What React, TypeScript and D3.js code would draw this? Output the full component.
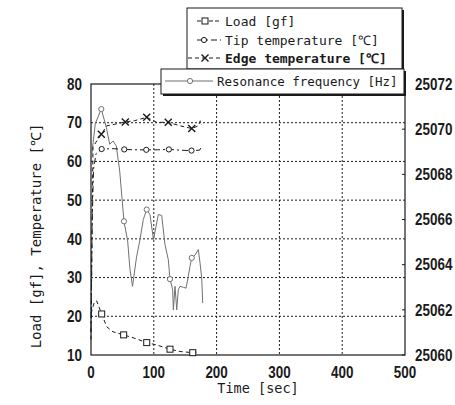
import React from 'react';
import * as d3 from 'd3';

const xTicks = [0, 100, 200, 300, 400, 500];
const yLeftTicks = [10, 20, 30, 40, 50, 60, 70, 80];
const yRightTicks = [25060, 25062, 25064, 25066, 25068, 25070, 25072];

const loadTime = [0, 5, 9, 17, 25, 35, 52, 70, 88.7, 104.5, 125.8, 141.7, 162, 170];
const loadValue = [20.7, 23.5, 24.0, 20.6, 17.3, 16.0, 15.2, 14.3, 13.2, 12.6, 11.5, 10.9, 10.6, 10.8];
const loadMarkerIdx = [3, 6, 8, 10, 12];

const tipTime = [0, 2, 4, 8, 17, 35, 53, 70, 88, 106, 124, 142, 160, 173, 176];
const tipValue = [16, 45, 58, 62, 63.2, 63.3, 63.1, 63.0, 63.0, 63.0, 63.1, 62.9, 62.8, 62.9, 64.0];
const tipMarkerIdx = [4, 6, 8, 10, 12];

const edgeTime = [0, 1.5, 3.2, 8, 16.4, 25, 37.7, 54.6, 69, 88.7, 104.6, 123, 141.7, 160.4, 171, 174, 176];
const edgeValue = [14, 40, 63.7, 65, 67.0, 69.2, 69.6, 70.2, 70.5, 71.4, 70.1, 70.1, 69.2, 68.5, 69.2, 70.5, 69.5];
const edgeMarkerIdx = [4, 7, 9, 11, 13];

const freqTime = [0, 6.8, 16.4, 24.4, 29.8, 35.0, 40.3, 45.7, 52.5, 58.4, 62.1, 66.1, 72.5, 78.0, 83.3, 88.7, 93.9, 99.5, 107.2, 112.6, 117.8, 123.1, 125.8, 130.1, 131.1, 133.8, 136.5, 139.0, 141.7, 147.0, 151.3, 154.9, 157.6, 160.4, 165.6, 170.9, 173.6, 176.3, 177.9];
const freqValue = [25068.58, 25070.25, 25070.89, 25070.08, 25069.33, 25069.48, 25069.26, 25068.15, 25065.92, 25065.04, 25063.78, 25063.04, 25064.33, 25065.11, 25066.0, 25066.44, 25066.22, 25065.11, 25066.22, 25066.18, 25064.89, 25064.22, 25063.36, 25062.89, 25062.0, 25063.04, 25062.0, 25062.89, 25063.04, 25063.0, 25062.96, 25063.48, 25063.92, 25064.3, 25064.42, 25064.67, 25064.08, 25063.41, 25062.3];
const freqMarkerIdx = [2, 8, 15, 22, 33];

const legendLabels = ['Load [gf]', 'Tip temperature [℃]', 'Edge temperature [℃]', 'Resonance frequency [Hz]'];

const monoFont = '"DejaVu Sans Mono", monospace';
const numFont = '"Liberation Sans", Arial, sans-serif';

export default function App() {
  const left = 91, right = 405, top = 84, bottom = 355;
  const x = d3.scaleLinear().domain([0, 500]).range([left, right]);
  const yL = d3.scaleLinear().domain([10, 80]).range([bottom, top]);
  const yR = d3.scaleLinear().domain([25060, 25072]).range([bottom, top]);

  const mk = (ts: number[], vs: number[], ys: d3.ScaleLinear<number, number>) =>
    d3.line<number>().x((_, i) => x(ts[i])).y((v) => ys(v))(vs) || '';

  const ink = '#1a1a1a';
  const gray = '#707070';

  const square = (cx: number, cy: number, key: string) => (
    <rect key={key} x={cx - 3} y={cy - 3} width={6} height={6} fill="white" stroke={ink} strokeWidth={1} />
  );
  const circle = (cx: number, cy: number, key: string, col: string) => (
    <circle key={key} cx={cx} cy={cy} r={2.6} fill="white" stroke={col} strokeWidth={1} />
  );
  const cross = (cx: number, cy: number, key: string) => (
    <path key={key} d={`M${cx - 3.5},${cy - 3.5}L${cx + 3.5},${cy + 3.5}M${cx - 3.5},${cy + 3.5}L${cx + 3.5},${cy - 3.5}`} stroke={ink} strokeWidth={1.4} />
  );
  const num = (key: string, tx: number, ty: number, anchor: string, label: string | number) => (
    <text key={key} transform={`translate(${tx},${ty}) scale(0.84,1)`} dy="0.36em" textAnchor={anchor} fontFamily={numFont} fontWeight="bold" fontSize={16} fill={ink}>{label}</text>
  );

  return (
    <svg width={455} height={405} style={{ position: 'absolute', left: 0, top: 0, background: 'white' }}>
      <rect x={0} y={0} width={455} height={405} fill="white" />
      {/* grid */}
      {xTicks.filter((t) => t > 0 && t < 500).map((t) => (
        <line key={'gx' + t} x1={x(t)} x2={x(t)} y1={top} y2={bottom} stroke={ink} strokeWidth={1} strokeDasharray="2,2" />
      ))}
      {yLeftTicks.filter((t) => t > 10 && t < 80).map((t) => (
        <line key={'gy' + t} x1={left} x2={right} y1={yL(t)} y2={yL(t)} stroke={ink} strokeWidth={1} strokeDasharray="2,2" />
      ))}
      {/* right ticks */}
      {yRightTicks.map((t) => (
        <line key={'rt' + t} x1={right - 3} x2={right} y1={yR(t)} y2={yR(t)} stroke={ink} strokeWidth={1} />
      ))}
      {/* frame */}
      <rect x={left} y={top} width={right - left} height={bottom - top} fill="none" stroke={ink} strokeWidth={1.2} />

      {/* series */}
      <path d={mk(freqTime, freqValue, yR)} fill="none" stroke={gray} strokeWidth={1} />
      {freqMarkerIdx.map((i) => circle(x(freqTime[i]), yR(freqValue[i]), 'fm' + i, gray))}

      <path d={mk(loadTime, loadValue, yL)} fill="none" stroke={ink} strokeWidth={1} strokeDasharray="4,3" />
      {loadMarkerIdx.map((i) => square(x(loadTime[i]), yL(loadValue[i]), 'lm' + i))}

      <path d={mk(tipTime, tipValue, yL)} fill="none" stroke={ink} strokeWidth={1} strokeDasharray="6,3,2,3" />
      {tipMarkerIdx.map((i) => circle(x(tipTime[i]), yL(tipValue[i]), 'tm' + i, ink))}

      <path d={mk(edgeTime, edgeValue, yL)} fill="none" stroke={ink} strokeWidth={1} strokeDasharray="4,3" />
      {edgeMarkerIdx.map((i) => cross(x(edgeTime[i]), yL(edgeValue[i]), 'em' + i))}

      {/* tick labels */}
      {yLeftTicks.map((t) => num('yl' + t, 82, yL(t), 'end', t))}
      {yRightTicks.map((t) => num('yr' + t, 415, yR(t), 'start', t))}
      {xTicks.map((t) => num('xt' + t, x(t), 372, 'middle', t))}

      <text x={258} y={393} textAnchor="middle" fontFamily={monoFont} fontSize={13.5} fill={ink}>Time [sec]</text>
      <text transform={`translate(41,236) rotate(-90)`} textAnchor="middle" fontFamily={monoFont} fontSize={14} fill={ink}>Load [gf], Temperature [℃]</text>

      {/* legend box 1 */}
      <rect x={189} y={10} width={215} height={61} fill={ink} />
      <rect x={187} y={8} width={215} height={61} fill="white" stroke={ink} strokeWidth={1} />
      <line x1={197} x2={221} y1={21} y2={21} stroke={ink} strokeWidth={1} strokeDasharray="4,2" />
      {square(205, 21, 'lg0')}
      <line x1={197} x2={221} y1={40} y2={40} stroke={ink} strokeWidth={1} strokeDasharray="6,3,2,3" />
      {circle(204, 40, 'lg1', ink)}
      <line x1={188} x2={222} y1={58} y2={58} stroke={ink} strokeWidth={1} strokeDasharray="4,3" />
      {cross(205, 58, 'lg2')}
      <text x={225} y={21} dy="0.36em" fontFamily={monoFont} fontSize={13} fill={ink}>{legendLabels[0]}</text>
      <text x={225} y={40} dy="0.36em" fontFamily={monoFont} fontSize={13} fill={ink}>{legendLabels[1]}</text>
      <text x={225} y={58} dy="0.36em" fontFamily={monoFont} fontSize={13} fontWeight="bold" fill={ink}>{legendLabels[2]}</text>

      {/* legend box 2 */}
      <rect x={163} y={71} width={243} height={25} fill={ink} />
      <rect x={161} y={69} width={243} height={25} fill="white" stroke={ink} strokeWidth={1} />
      <line x1={165} x2={213} y1={81} y2={81} stroke={gray} strokeWidth={1} />
      {circle(190, 81, 'lg3', gray)}
      <text x={217} y={81} dy="0.36em" fontFamily={monoFont} fontSize={12.5} fill={ink}>{legendLabels[3]}</text>
    </svg>
  );
}
